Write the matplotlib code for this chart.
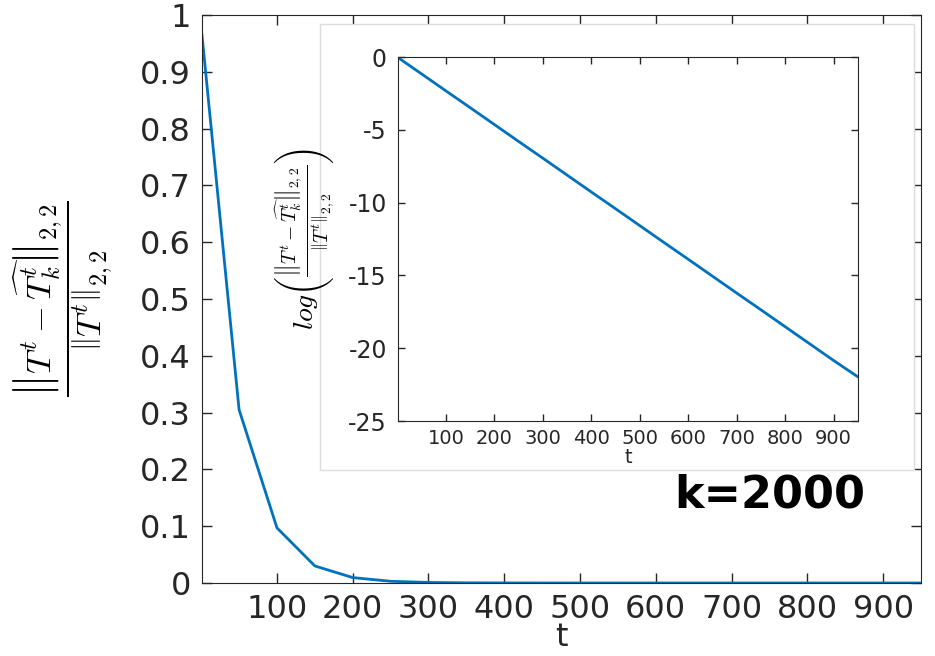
import matplotlib
matplotlib.use("Agg")
import matplotlib.pyplot as plt
from matplotlib.patches import Rectangle

plt.rcParams['mathtext.fontset'] = 'cm'
plt.rcParams['font.family'] = 'DejaVu Sans'
plt.rcParams['axes.unicode_minus'] = False

# relative error of the rank-k approximation over time
t = [1, 50, 100, 150, 200, 250, 300, 350, 400, 450,
     500, 550, 600, 650, 700, 750, 800, 850, 900, 950]
rel_err = [0.965, 0.305, 0.097, 0.030, 0.0095, 0.003, 0.00095, 0.0003,
           0.0001, 0.00003, 0.00001, 0.000003, 0.000001, 0.0000003,
           0.0000001, 0.00000003, 0.00000001, 0.000000003,
           0.000000001, 0.0000000003]
log_err = [-0.04, -1.17, -2.33, -3.48, -4.64, -5.80, -6.95, -8.11,
           -9.27, -10.42, -11.58, -12.74, -13.89, -15.05, -16.21,
           -17.36, -18.52, -19.68, -20.84, -21.96]
k_label = 'k=2000'

blue = '#0072BD'
dark = '#262626'

fig = plt.figure(figsize=(9.35, 6.56), dpi=100)

ax = fig.add_axes([0.216, 0.1113, 0.769, 0.866])
ax.plot(t, rel_err, color=blue, lw=2)
ax.set_xlim(1, 950)
ax.set_ylim(0, 1)
ax.set_xticks(range(100, 1000, 100))
ax.set_yticks([i / 10 for i in range(11)])
ax.set_yticklabels(['0'] + ['0.%d' % i for i in range(1, 10)] + ['1'])
ax.tick_params(direction='in', length=7, width=1, colors=dark,
               labelsize=23, top=True, right=True, pad=8)
for s in ax.spines.values():
    s.set_color(dark)
ax.set_xlabel('t', fontsize=23, color=dark, labelpad=-2)
ax.set_ylabel(r'$\dfrac{\left\|T^t-\widehat{T_k^t}\right\|_{2,2}}{\left\|T^t\right\|_{2,2}}$',
              fontsize=25, color='black')
ax.yaxis.set_label_coords(-0.121, 0.5)

ax.text(0.79, 0.155, k_label, transform=ax.transAxes, fontsize=32,
        fontweight='bold', color='black', ha='center', va='center')

# white panel behind the inset
fig.patches.append(Rectangle((0.3422, 0.2835), 0.6353, 0.680,
                             transform=fig.transFigure, facecolor='white',
                             edgecolor='#dcdcdc', lw=1, zorder=1))

ins = fig.add_axes([0.4257, 0.3582, 0.4917, 0.5549])
ins.set_zorder(3)
ins.plot(t, log_err, color=blue, lw=2)
ins.set_xlim(1, 950)
ins.set_ylim(-25, 0)
ins.set_xticks(range(100, 1000, 100))
ins.set_yticks(range(-25, 1, 5))
ins.tick_params(axis='both', direction='in', length=5, width=1,
                colors=dark, top=True, right=True)
ins.tick_params(axis='x', labelsize=14, pad=6)
ins.tick_params(axis='y', labelsize=17, pad=8)
for s in ins.spines.values():
    s.set_color(dark)
ins.set_xlabel('t', fontsize=14, color=dark, labelpad=0)
ins.set_ylabel(r'$log\left(\frac{\left\|T^t-\widehat{T_k^t}\right\|_{2,2}}{\left\|T^t\right\|_{2,2}}\right)$',
               fontsize=20, color='black')
ins.yaxis.set_label_coords(-0.133, 0.5)

fig.savefig('out.png', dpi=100)
